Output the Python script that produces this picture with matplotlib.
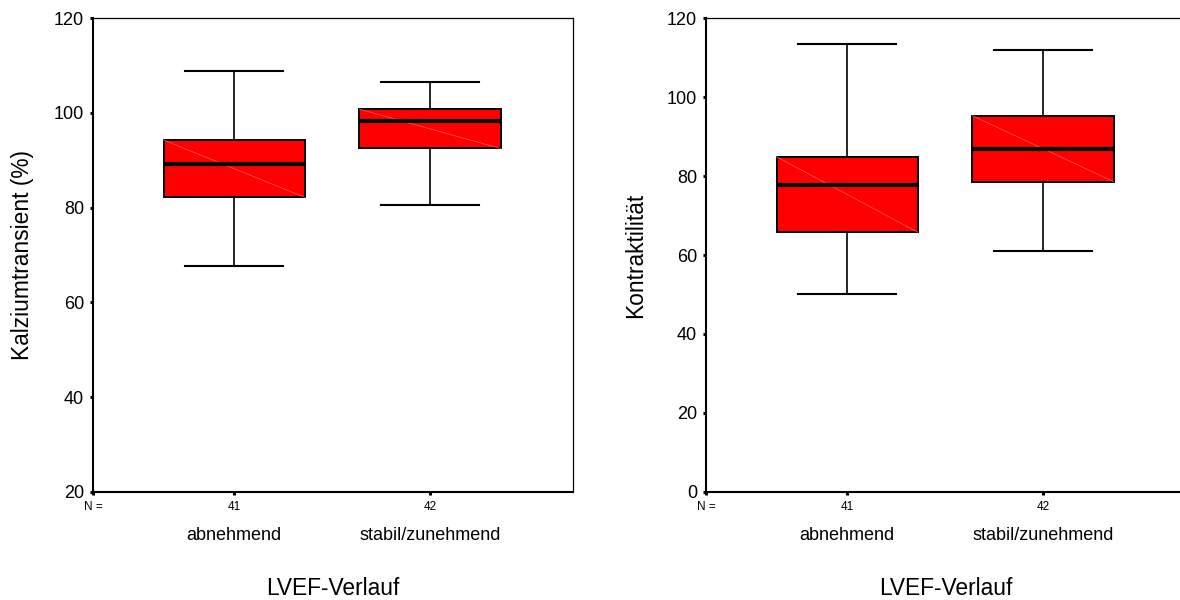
import matplotlib
matplotlib.use("Agg")
import matplotlib.pyplot as plt
import matplotlib.transforms as mtransforms

plt.rcParams['font.family'] = ['Liberation Sans', 'DejaVu Sans']

# Groups and sample sizes
groups = ['abnehmend', 'stabil/zunehmend']
n_counts = [41, 42]
x_label = 'LVEF-Verlauf'

# Calcium transient (%) five-number summaries per group
ca_whislo = [67.7, 80.6]
ca_q1 = [82.2, 92.5]
ca_med = [89.2, 98.3]
ca_q3 = [94.3, 100.8]
ca_whishi = [108.9, 106.5]
ca_ticks = [20, 40, 60, 80, 100, 120]

# Contractility five-number summaries per group
ko_whislo = [50.2, 61.1]
ko_q1 = [65.8, 78.6]
ko_med = [77.7, 86.9]
ko_q3 = [84.9, 95.3]
ko_whishi = [113.4, 112.0]
ko_ticks = [0, 20, 40, 60, 80, 100, 120]

W, H = 1180, 600
fig = plt.figure(figsize=(W / 100, H / 100), dpi=100)

ax_h = (491.7 - 18.3) / H
ax_b = 1 - 491.7 / H
ax_w = 480 / W
ax1 = fig.add_axes([93 / W, ax_b, ax_w, ax_h])
ax2 = fig.add_axes([706 / W, ax_b, ax_w, ax_h])

BOX_W = 0.72
CAP_W = 0.5
XLIM = (0.28, 2.73)


def draw_panel(ax, whislo, q1, med, q3, whishi, yticks, ylabel):
    positions = list(range(1, len(groups) + 1))
    stats = [dict(whislo=a, q1=b, med=c, q3=d, whishi=e, fliers=[])
             for a, b, c, d, e in zip(whislo, q1, med, q3, whishi)]
    ax.bxp(stats, positions=positions, widths=BOX_W,
           capwidths=[CAP_W] * len(stats),
           patch_artist=True, showfliers=False, manage_ticks=False,
           boxprops=dict(facecolor='#ff0000', edgecolor='black', linewidth=1.4),
           medianprops=dict(color='black', linewidth=3.0, zorder=4,
                            solid_capstyle='butt'),
           whiskerprops=dict(color='black', linewidth=1.2),
           capprops=dict(color='black', linewidth=1.5))
    # faint diagonal shading line across each box
    for p, lo, hi in zip(positions, q1, q3):
        ax.plot([p - BOX_W / 2, p + BOX_W / 2], [hi, lo],
                color='#ff6060', linewidth=0.5, zorder=2.5)

    ax.set_xlim(*XLIM)
    ax.set_ylim(yticks[0], yticks[-1])
    ax.set_yticks(yticks)
    ax.set_yticklabels([str(t) for t in yticks], fontsize=13)

    ax.set_xticks([XLIM[0]] + positions)
    ax.set_xticklabels(['N ='] + [str(n) for n in n_counts], fontsize=8.5)

    ax.tick_params(axis='both', direction='out', length=2.2, width=2.2,
                   color='black')
    ax.tick_params(axis='y', pad=4.3)
    ax.tick_params(axis='x', pad=4.5)

    for side in ('left', 'bottom'):
        ax.spines[side].set_linewidth(1.5)
    for side in ('top', 'right'):
        ax.spines[side].set_linewidth(0.9)

    trans = mtransforms.blended_transform_factory(ax.transData, ax.transAxes)
    for p, g in zip(positions, groups):
        ax.text(p, -0.0915, g, transform=trans, ha='center', va='center',
                fontsize=13)
    ax.text(0.5, -0.205, x_label, transform=ax.transAxes, ha='center',
            va='center', fontsize=16.4)
    ax.text(-0.147, 0.5, ylabel, transform=ax.transAxes, ha='center',
            va='center', rotation=90, fontsize=16.4)


draw_panel(ax1, ca_whislo, ca_q1, ca_med, ca_q3, ca_whishi, ca_ticks,
           'Kalziumtransient (%)')
draw_panel(ax2, ko_whislo, ko_q1, ko_med, ko_q3, ko_whishi, ko_ticks,
           'Kontraktilität')

fig.savefig('out.png', dpi=100)
